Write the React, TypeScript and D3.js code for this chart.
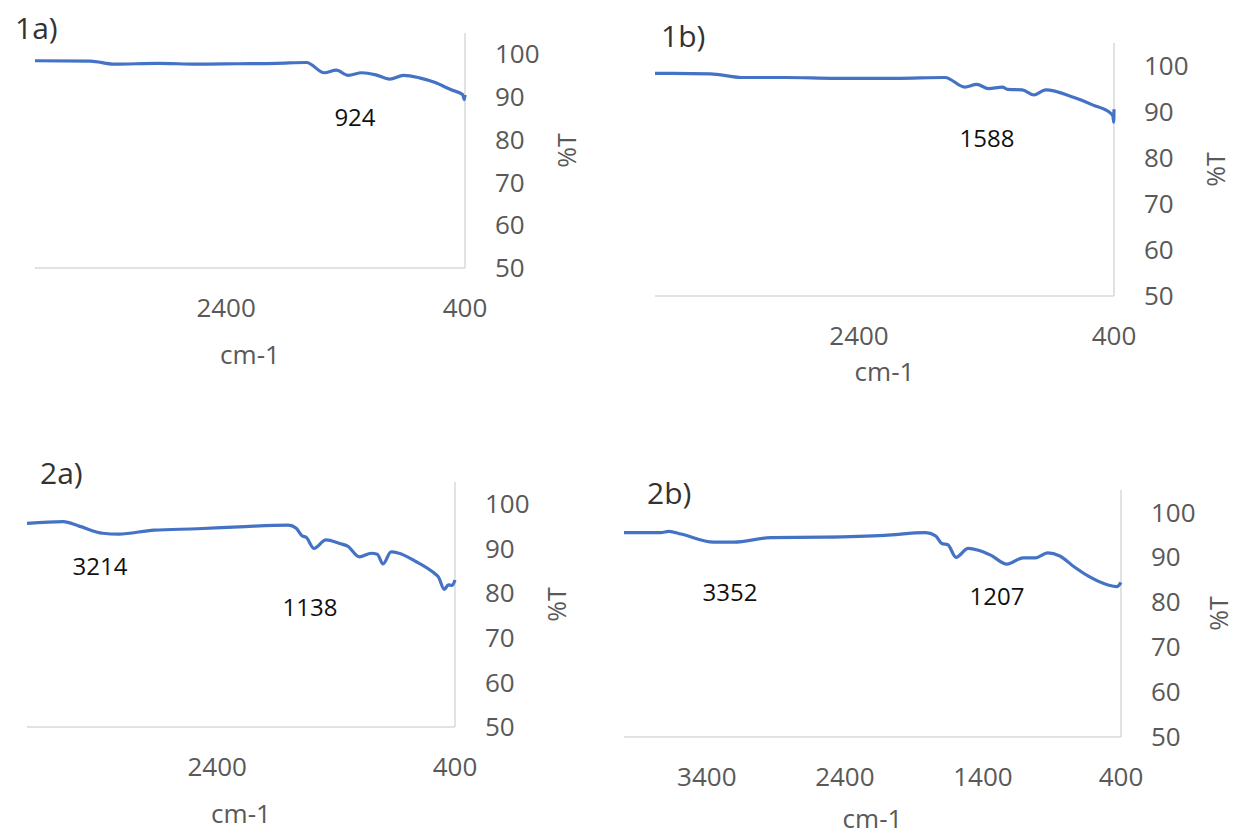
import React from "react";
import * as d3 from "d3";

// wavenumber (cm-1) and %T
const wn1a = [4000, 3536, 3336, 2971, 2640, 2308, 1976, 1727, 1578, 1478, 1379, 1262, 1146, 1030, 914, 781, 649, 516, 420, 405, 400];
const t1a = [98.5, 98.4, 97.7, 97.9, 97.7, 97.8, 97.9, 98.1, 95.7, 96.3, 95.1, 95.7, 95.2, 94.2, 95.1, 94.5, 93.4, 91.7, 90.6, 89.4, 90.5];

const wn1b = [4000, 3567, 3319, 2979, 2576, 2112, 1725, 1570, 1477, 1384, 1276, 1230, 1121, 1028, 936, 719, 564, 425, 408, 402, 400];
const t1b = [98.4, 98.3, 97.5, 97.5, 97.3, 97.3, 97.5, 95.4, 96.0, 95.1, 95.4, 94.9, 94.8, 93.7, 94.8, 93.2, 91.5, 89.7, 89.0, 87.8, 90.6];

const wn2a = [4000, 3694, 3562, 3362, 3229, 2931, 2566, 2167, 1802, 1735, 1685, 1652, 1586, 1486, 1370, 1303, 1204, 1104, 1054, 1005, 938, 872, 739, 573, 540, 490, 456, 423, 400];
const t2a = [95.7, 96.1, 95.1, 93.5, 93.3, 94.2, 94.5, 95.0, 95.3, 94.6, 92.9, 92.6, 90.1, 92.0, 91.2, 90.6, 88.2, 89.0, 88.8, 86.6, 89.3, 89.0, 87.3, 84.5, 83.7, 80.9, 81.9, 81.8, 83.0];

const wn2b = [4000, 3734, 3675, 3587, 3351, 3203, 2938, 2554, 2111, 1816, 1743, 1698, 1654, 1595, 1507, 1433, 1344, 1226, 1108, 1020, 931, 843, 740, 636, 489, 430, 400];
const t2b = [95.5, 95.5, 95.8, 95.2, 93.4, 93.4, 94.4, 94.5, 94.9, 95.5, 94.8, 93.1, 92.8, 90.0, 92.0, 91.6, 90.5, 88.5, 89.9, 89.9, 91.0, 90.3, 87.9, 85.8, 83.8, 83.5, 84.4];

const yTicks = [50, 60, 70, 80, 90, 100];
const xTicksShort = [2400, 400];
const xTicksLong = [3400, 2400, 1400, 400];

// peak labels: [text, wavenumber, %T]
const ann1a = [["924", 1321, 85.1]];
const ann1b = [["1588", 1396, 84.3]];
const ann2a = [["3214", 3386, 85.9], ["1138", 1620, 76.9]];
const ann2b = [["3352", 3232, 82.1], ["1207", 1298, 81.2]];

const FONT = "'Open Sans', 'DejaVu Sans', sans-serif";
const BLUE = "#4472C4";

function Panel({ title, wn, t, ann, xTicks, left, right, top, bottom, titleX, titleY, cmGap = 87, tGap = 102 }) {
  const x = d3.scaleLinear().domain([4000, 400]).range([left, right]);
  const y = d3.scaleLinear().domain([50, 105]).range([bottom, top]);
  const line = d3.line<number>()
    .x((d, i) => x(wn[i]))
    .y(d => y(d))
    .curve(d3.curveMonotoneX);

  return (
    <g fontFamily={FONT}>
      <text x={titleX} y={titleY} fontSize={30} fill="#333">{title}</text>

      {/* axes */}
      <line x1={left} x2={right} y1={bottom} y2={bottom} stroke="#d9d9d9" strokeWidth={1.5} />
      <line x1={right} x2={right} y1={top} y2={bottom} stroke="#d9d9d9" strokeWidth={1.5} />

      <path d={line(t)} fill="none" stroke={BLUE} strokeWidth={3.2} strokeLinejoin="round" />

      {yTicks.map(v => (
        <text key={v} x={right + 30} y={y(v)} dy="0.35em" fontSize={26} fill="#595959">{v}</text>
      ))}
      {xTicks.map(v => (
        <text key={v} x={x(v)} y={bottom + 40} dy="0.35em" fontSize={26} fill="#595959" textAnchor="middle">{v}</text>
      ))}

      <text x={(left + right) / 2} y={bottom + cmGap} dy="0.35em" fontSize={26} fill="#595959" textAnchor="middle">cm-1</text>
      <text transform={`translate(${right + tGap},${(top + bottom) / 2}) rotate(-90)`} dy="0.35em"
        fontSize={25} fill="#595959" textAnchor="middle">%T</text>

      {ann.map(([label, w, v]) => (
        <text key={label} x={x(w)} y={y(v)} dy="0.35em" fontSize={24} fill="#111" textAnchor="middle">{label}</text>
      ))}
    </g>
  );
}

export default function App() {
  return (
    <svg width={1238} height={836} style={{ position: "absolute", left: 0, top: 0, background: "#fff" }}>
      <Panel title="1a)" wn={wn1a} t={t1a} ann={ann1a} xTicks={xTicksShort}
        left={35} right={465} top={33} bottom={268} titleX={15} titleY={39} />
      <Panel title="1b)" wn={wn1b} t={t1b} ann={ann1b} xTicks={xTicksShort}
        left={655} right={1114} top={43} bottom={296} titleX={661} titleY={47} cmGap={76} />
      <Panel title="2a)" wn={wn2a} t={t2a} ann={ann2a} xTicks={xTicksShort}
        left={27} right={455} top={482} bottom={727} titleX={40} titleY={484} />
      <Panel title="2b)" wn={wn2b} t={t2b} ann={ann2b} xTicks={xTicksLong}
        left={624} right={1121} top={490} bottom={737} titleX={647} titleY={504} cmGap={82} tGap={98} />
    </svg>
  );
}
